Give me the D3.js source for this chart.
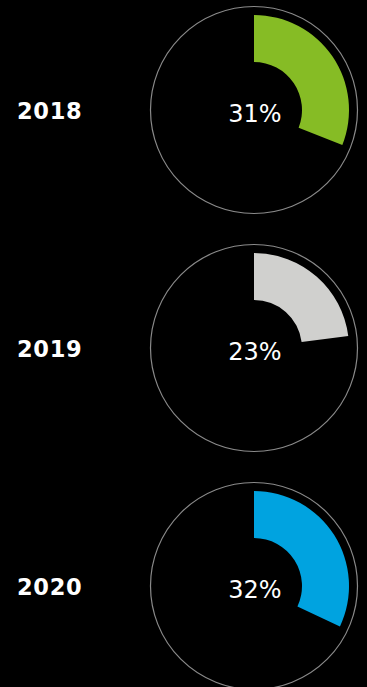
<!DOCTYPE html>
<html>
<head>
<meta charset="utf-8">
<script src="https://cdn.jsdelivr.net/npm/d3@7"></script>
<style>
  html, body { margin: 0; padding: 0; background: #000; }
  svg { display: block; }
</style>
</head>
<body>
<svg id="chart" width="367" height="687"></svg>
<script>
// Share by year, shown as a progress ring per row
const years = ["2018", "2019", "2020"];
const shares = [31, 23, 32];
const ringColors = ["#86BC25", "#D0D0CE", "#00A3E0"];

const width = 367, height = 687;
const svg = d3.select("#chart");

svg.append("rect").attr("width", width).attr("height", height).attr("fill", "#000");

// Row centres
const y = d3.scalePoint().domain(years).range([110, 586]);
const cx = 254;

// Percent -> angle (full turn = 100%)
const angle = d3.scaleLinear().domain([0, 100]).range([0, 2 * Math.PI]);

const arc = d3.arc().innerRadius(48).outerRadius(95);

const rows = svg.selectAll("g.row")
  .data(years.map((yr, i) => ({ year: yr, value: shares[i], color: ringColors[i] })))
  .join("g")
  .attr("class", "row")
  .attr("transform", d => `translate(0,${y(d.year)})`);

// Year label
rows.append("text")
  .attr("x", 17)
  .attr("y", 9)
  .attr("fill", "#fff")
  .attr("font-family", "'DejaVu Sans', Verdana, sans-serif")
  .attr("font-weight", "bold")
  .attr("font-size", 22.5)
  .attr("letter-spacing", 0.7)
  .text(d => d.year);

const ring = rows.append("g").attr("transform", `translate(${cx},0)`);

// Outer guide circle
ring.append("circle")
  .attr("r", 103.5)
  .attr("fill", "none")
  .attr("stroke", "#8a8a8a")
  .attr("stroke-width", 1.2);

// Value arc
ring.append("path")
  .attr("d", d => arc({ startAngle: 0, endAngle: angle(d.value) }))
  .attr("fill", d => d.color);

// Centre label
ring.append("text")
  .attr("x", 1)
  .attr("y", 11.5)
  .attr("text-anchor", "middle")
  .attr("fill", "#fff")
  .attr("font-family", "'DejaVu Sans', Verdana, sans-serif")
  .attr("font-size", 24)
  .text(d => d.value + "%");
</script>
</body>
</html>
